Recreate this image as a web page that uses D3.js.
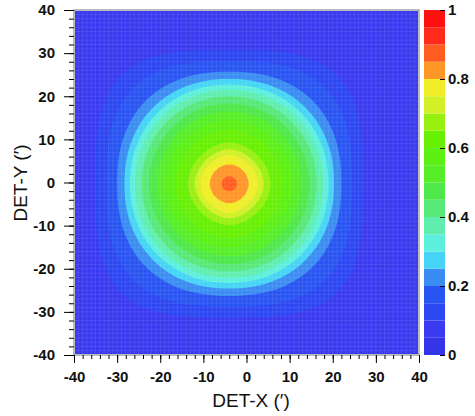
<!DOCTYPE html>
<html>
<head>
<meta charset="utf-8">
<script src="https://cdn.jsdelivr.net/npm/d3@7"></script>
<style>
  body { margin: 0; background: #fff; }
  svg { display: block; font-family: "Liberation Sans", Arial, sans-serif; }
  .tick text { font-weight: bold; font-size: 15px; fill: #111; }
  .tick line { stroke: #000; }
</style>
</head>
<body>
<div id="chart"></div>
<script>
const width = 475;
const height = 416;
const plot = { left: 74, right: 419, top: 10, bottom: 355 };
const bar = { left: 424, right: 445 };

// contour levels, radii (arcmin) along the axes and along the diagonals
const levels     = [0.10, 0.15, 0.20, 0.25, 0.30, 0.35, 0.40, 0.45, 0.50, 0.55, 0.60, 0.65, 0.70, 0.75, 0.80, 0.85];
const axisRadius = [31.0, 28.5, 26.0, 24.3, 23.0, 21.8, 20.3, 18.6, 16.8, 14.8, 12.6, 9.6, 8.0, 6.7, 4.5, 1.75];
const diagRadius = [35.5, 31.5, 27.3, 25.0, 23.4, 22.0, 20.4, 18.6, 16.7, 14.6, 12.3, 9.3, 7.7, 6.4, 4.4, 1.75];
const center = [-4, -0.3];

const bandEdges  = [0.05, 0.10, 0.15, 0.20, 0.25, 0.30, 0.35, 0.40, 0.45, 0.50, 0.55, 0.60, 0.65, 0.70, 0.75, 0.80, 0.85, 0.90, 0.95];
const bandColors = ['#3434e8', '#3a3af0', '#2c46f2', '#2854f2', '#3a8cf2', '#46d4f6', '#5cf0dc', '#60eeb0',
                    '#58e878', '#4ee84a', '#56ee28', '#5cf014', '#68f004', '#98f010', '#d2f028', '#f0ee28',
                    '#ff9628', '#ff5c22', '#ff2c1e', '#ff1010'];

const xTicks = [-40, -30, -20, -10, 0, 10, 20, 30, 40];
const yTicks = [-40, -30, -20, -10, 0, 10, 20, 30, 40];
const minorTicks = d3.range(-40, 41, 2);
const barTicks = [0, 0.2, 0.4, 0.6, 0.8, 1];

const svg = d3.select('#chart').append('svg')
    .attr('width', width)
    .attr('height', height);

const x = d3.scaleLinear().domain([-40, 40]).range([plot.left, plot.right]);
const y = d3.scaleLinear().domain([-40, 40]).range([plot.bottom, plot.top]);
const color = d3.scaleThreshold().domain(bandEdges).range(bandColors);

svg.append('clipPath').attr('id', 'clip')
    .append('rect')
    .attr('x', plot.left + 1).attr('y', plot.top + 1)
    .attr('width', plot.right - plot.left - 2)
    .attr('height', plot.bottom - plot.top - 2);

const map = svg.append('g').attr('clip-path', 'url(#clip)');

map.append('rect')
    .attr('x', plot.left).attr('y', plot.top)
    .attr('width', plot.right - plot.left)
    .attr('height', plot.bottom - plot.top)
    .attr('fill', color(0.07));

// each contour is a rounded square (superellipse) fixed by its axis and diagonal radius
function contourPoints(a, d) {
    const n = 1 / (0.5 - Math.log2(d / a));
    return d3.range(0, 360, 4).map(deg => {
        const t = deg * Math.PI / 180;
        const r = a / Math.pow(Math.pow(Math.abs(Math.cos(t)), n) + Math.pow(Math.abs(Math.sin(t)), n), 1 / n);
        return [center[0] + r * Math.cos(t), center[1] + r * Math.sin(t)];
    });
}

const contour = d3.line()
    .x(p => x(p[0]))
    .y(p => y(p[1]))
    .curve(d3.curveCatmullRomClosed);

map.selectAll('path.level')
    .data(levels)
    .enter()
    .append('path')
    .attr('class', 'level')
    .attr('d', (d, i) => contour(contourPoints(axisRadius[i], diagRadius[i])))
    .attr('fill', d => color(d));

// bin mesh
const bins = d3.range(-40, 41, 1);
map.selectAll('line.vbin').data(bins).enter().append('line')
    .attr('x1', d => x(d)).attr('x2', d => x(d))
    .attr('y1', plot.top).attr('y2', plot.bottom)
    .attr('stroke', '#fff').attr('stroke-opacity', 0.13).attr('stroke-width', 0.7);
map.selectAll('line.hbin').data(bins).enter().append('line')
    .attr('y1', d => y(d)).attr('y2', d => y(d))
    .attr('x1', plot.left).attr('x2', plot.right)
    .attr('stroke', '#fff').attr('stroke-opacity', 0.13).attr('stroke-width', 0.7);

svg.append('rect')
    .attr('x', plot.left).attr('y', plot.top)
    .attr('width', plot.right - plot.left)
    .attr('height', plot.bottom - plot.top)
    .attr('fill', 'none')
    .attr('stroke', '#777')
    .attr('stroke-width', 1);

// axes
svg.append('g')
    .attr('transform', `translate(0, ${plot.bottom})`)
    .call(d3.axisBottom(x).tickValues(xTicks).tickSize(8).tickPadding(8).tickFormat(d3.format('d')));
svg.append('g')
    .attr('transform', `translate(0, ${plot.bottom})`)
    .call(d3.axisBottom(x).tickValues(minorTicks).tickSize(4).tickFormat(''));

svg.append('g')
    .attr('transform', `translate(${plot.left}, 0)`)
    .call(d3.axisLeft(y).tickValues(yTicks).tickSize(10).tickPadding(9).tickFormat(d3.format('d')));
svg.append('g')
    .attr('transform', `translate(${plot.left}, 0)`)
    .call(d3.axisLeft(y).tickValues(minorTicks).tickSize(5).tickFormat(''));

svg.selectAll('.domain').remove();
svg.selectAll('.tick text').text(function () { return this.textContent.replace('−', '-'); });

svg.append('text')
    .attr('x', 251).attr('y', 407)
    .attr('text-anchor', 'middle')
    .attr('font-size', 19)
    .attr('fill', '#111')
    .text('DET-X (′)');

svg.append('text')
    .attr('transform', 'translate(27, 183) rotate(-90)')
    .attr('text-anchor', 'middle')
    .attr('font-size', 19)
    .attr('fill', '#111')
    .text('DET-Y (′)');

// colour bar
const c = d3.scaleLinear().domain([0, 1]).range([plot.bottom, plot.top]);
const bandLows = [0].concat(bandEdges);
const bandHighs = bandEdges.concat([1]);
svg.selectAll('rect.band')
    .data(bandColors)
    .enter()
    .append('rect')
    .attr('class', 'band')
    .attr('x', bar.left)
    .attr('width', bar.right - bar.left)
    .attr('y', (d, i) => c(bandHighs[i]))
    .attr('height', (d, i) => c(bandLows[i]) - c(bandHighs[i]))
    .attr('fill', d => d);

svg.append('g')
    .attr('transform', `translate(${bar.right}, 0)`)
    .call(d3.axisRight(c).tickValues(barTicks).tickSizeInner(-5).tickSizeOuter(0).tickPadding(3).tickFormat(d3.format('')))
    .select('.domain').remove();
</script>
</body>
</html>
